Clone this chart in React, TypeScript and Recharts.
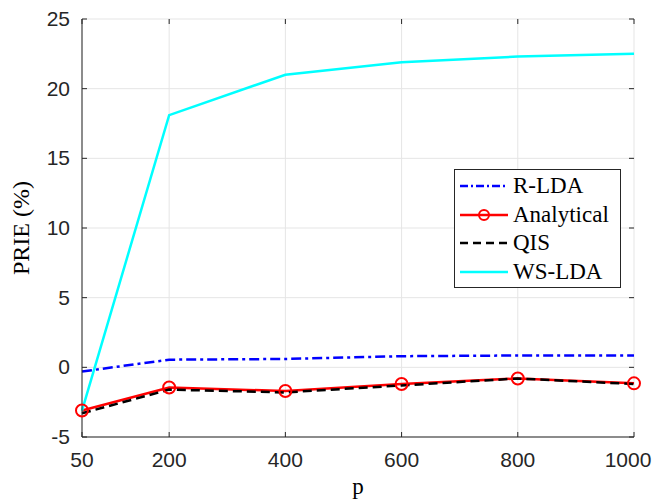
import { LineChart, Line, XAxis, YAxis, CartesianGrid, Label } from 'recharts';

const pValues = [50, 200, 400, 600, 800, 1000];
const rLda = [-0.3, 0.55, 0.6, 0.8, 0.85, 0.85];
const analytical = [-3.1, -1.45, -1.7, -1.2, -0.8, -1.15];
const qis = [-3.3, -1.6, -1.8, -1.3, -0.8, -1.2];
const wsLda = [-3.1, 18.1, 21.0, 21.9, 22.3, 22.5];
const yTicks = [-5, 0, 5, 10, 15, 20, 25];

const data = pValues.map((p, i) => ({
  p,
  rLda: rLda[i],
  analytical: analytical[i],
  qis: qis[i],
  wsLda: wsLda[i],
}));

const legendItems = [
  { name: 'R-LDA', color: '#0000ff', dash: '8 3 2 3', marker: false },
  { name: 'Analytical', color: '#ff0000', dash: undefined, marker: true },
  { name: 'QIS', color: '#000000', dash: '8 5', marker: false },
  { name: 'WS-LDA', color: '#00ffff', dash: undefined, marker: false },
];

const sans = 'Liberation Sans, Arial, sans-serif';
const serif = 'Liberation Serif, DejaVu Serif, serif';
const axisColor = '#262626';
const TICK_SIZE = 6;
const X_MARGIN = 8;
const Y_MARGIN = 6;
const PLOT_TOP = 19;
const PLOT_BOTTOM = 437;
const PLOT_LEFT = 82;
const PLOT_RIGHT = 634;

// matlab style: tick marks point into the plot, on both sides of the box
function XTick(props: any) {
  const { x, y, payload, index } = props;
  const axisY = y - TICK_SIZE - X_MARGIN;
  const shift = index === pValues.length - 1 ? -6 : 0;
  return (
    <g>
      <line x1={x} y1={axisY} x2={x} y2={axisY - 5} stroke={axisColor} />
      <line x1={x} y1={PLOT_TOP} x2={x} y2={PLOT_TOP + 5} stroke={axisColor} />
      <text x={x + shift} y={axisY + 30} textAnchor="middle" fontFamily={sans} fontSize={21} fill={axisColor}>
        {payload.value}
      </text>
    </g>
  );
}

function YTick(props: any) {
  const { x, y, payload } = props;
  const axisX = x + TICK_SIZE + Y_MARGIN;
  return (
    <g>
      <line x1={axisX} y1={y} x2={axisX + 5} y2={y} stroke={axisColor} />
      <line x1={PLOT_RIGHT} y1={y} x2={PLOT_RIGHT - 5} y2={y} stroke={axisColor} />
      <text x={axisX - 12} y={y + 7} textAnchor="end" fontFamily={sans} fontSize={21} fill={axisColor}>
        {payload.value}
      </text>
    </g>
  );
}

// legend drawn as a plain box over the plot, like matlab's legend
function ChartLegend() {
  return (
    <div
      style={{
        position: 'absolute',
        left: 454,
        top: 169,
        border: '1px solid #262626',
        background: '#fff',
        width: 167,
        height: 119,
        boxSizing: 'border-box',
        padding: '2px 0 0 4px',
      }}
    >
      {legendItems.map((it) => (
        <div key={it.name} style={{ display: 'flex', alignItems: 'center', height: 28.5 }}>
          <svg width={50} height={16}>
            <line x1={1} y1={8} x2={49} y2={8} stroke={it.color} strokeWidth={2.5} strokeDasharray={it.dash} />
            {it.marker && <circle cx={25} cy={8} r={5} fill="none" stroke={it.color} strokeWidth={2} />}
          </svg>
          <span style={{ fontFamily: serif, fontSize: 23, color: '#000', marginLeft: 4, lineHeight: '28px' }}>{it.name}</span>
        </div>
      ))}
    </div>
  );
}

export default function App() {
  return (
    <div style={{ position: 'absolute', left: 0, top: 0, width: 657, height: 501, background: '#fff' }}>
      <LineChart
        width={657}
        height={501}
        data={data}
        margin={{ top: PLOT_TOP, right: 657 - PLOT_RIGHT, left: 0, bottom: 0 }}
      >
        <CartesianGrid stroke="#e5e5e5" strokeWidth={1} />
        <XAxis
          dataKey="p"
          type="number"
          domain={[50, 1000]}
          ticks={pValues}
          height={501 - PLOT_BOTTOM}
          tick={<XTick />}
          tickSize={TICK_SIZE}
          tickMargin={X_MARGIN}
          tickLine={false}
          axisLine={{ stroke: axisColor, strokeWidth: 1 }}
          interval={0}
        >
          <Label
            content={(props: any) => {
              const vb = props.viewBox;
              return (
                <text x={vb.x + vb.width / 2} y={494} textAnchor="middle" fontFamily={serif} fontSize={23} fill="#000">
                  p
                </text>
              );
            }}
          />
        </XAxis>
        <XAxis xAxisId="top" orientation="top" dataKey="p" type="number" domain={[50, 1000]} height={0} tick={false} tickLine={false} axisLine={{ stroke: axisColor }} />
        <YAxis
          type="number"
          domain={[-5, 25]}
          ticks={yTicks}
          width={PLOT_LEFT}
          tick={<YTick />}
          tickSize={TICK_SIZE}
          tickMargin={Y_MARGIN}
          tickLine={false}
          axisLine={{ stroke: axisColor, strokeWidth: 1 }}
          interval={0}
        >
          <Label
            content={(props: any) => {
              const vb = props.viewBox;
              const cy = vb.y + vb.height / 2;
              return (
                <text x={29} y={cy} transform={`rotate(-90, 29, ${cy})`} textAnchor="middle" fontFamily={serif} fontSize={24} fill="#000">
                  PRIE (%)
                </text>
              );
            }}
          />
        </YAxis>
        <YAxis yAxisId="right" orientation="right" domain={[-5, 25]} width={0} tick={false} tickLine={false} axisLine={{ stroke: axisColor }} />
        <Line dataKey="rLda" name="R-LDA" stroke="#0000ff" strokeWidth={2.5} strokeDasharray="10 4 3 4" dot={false} isAnimationActive={false} />
        <Line
          dataKey="analytical"
          name="Analytical"
          stroke="#ff0000"
          strokeWidth={2.5}
          dot={{ r: 6, stroke: '#ff0000', strokeWidth: 2, fill: 'none' }}
          isAnimationActive={false}
        />
        <Line dataKey="qis" name="QIS" stroke="#000000" strokeWidth={2.5} strokeDasharray="9 5" dot={false} isAnimationActive={false} />
        <Line dataKey="wsLda" name="WS-LDA" stroke="#00ffff" strokeWidth={2.5} dot={false} isAnimationActive={false} />
      </LineChart>
      <ChartLegend />
    </div>
  );
}
